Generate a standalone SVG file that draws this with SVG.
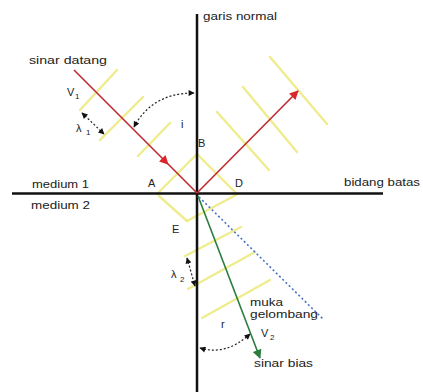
<svg xmlns="http://www.w3.org/2000/svg" width="423" height="392" viewBox="0 0 423 392">
<style>
text{font-family:"Liberation Sans",Arial,sans-serif;font-size:11px;fill:#222}
.sub{font-size:8px}
.axis{stroke:#111;stroke-width:2.5;fill:none}
.wf{stroke:#ebe772;stroke-width:2.4;fill:none;stroke-linecap:round;opacity:0.8}
.dot{stroke:#222;stroke-width:1.2;fill:none;stroke-dasharray:2 2}
</style>
<defs>
<marker id="ar" viewBox="0 0 10 10" refX="9" refY="5" markerWidth="11" markerHeight="9" markerUnits="userSpaceOnUse" orient="auto"><path d="M0,0 L10,5 L0,10 z" fill="#d8262c"/></marker>
<marker id="ag" viewBox="0 0 10 10" refX="9" refY="5" markerWidth="11" markerHeight="9" markerUnits="userSpaceOnUse" orient="auto"><path d="M0,0 L10,5 L0,10 z" fill="#2a7d3c"/></marker>
<marker id="ak" viewBox="0 0 10 10" refX="9" refY="5" markerWidth="7" markerHeight="6" markerUnits="userSpaceOnUse" orient="auto-start-reverse"><path d="M0,0 L10,5 L0,10 z" fill="#111"/></marker>
</defs>
<rect width="423" height="392" fill="#fff"/>

<g id="wavefronts">
<line class="wf" x1="80" y1="110" x2="117" y2="70"/>
<line class="wf" x1="100" y1="140" x2="143" y2="97"/>
<line class="wf" x1="138" y1="156" x2="170" y2="123"/>
<line class="wf" x1="157" y1="194" x2="197" y2="154"/>
<line class="wf" x1="197" y1="154" x2="237" y2="194"/>
<line class="wf" x1="217" y1="112" x2="269" y2="170"/>
<line class="wf" x1="243" y1="87" x2="297" y2="152"/>
<line class="wf" x1="270" y1="57" x2="327" y2="124"/>
<line class="wf" x1="159" y1="196" x2="187" y2="221"/>
<line class="wf" x1="187" y1="221" x2="236" y2="195"/>
<line class="wf" x1="185" y1="256" x2="241" y2="227"/>
<line class="wf" x1="188" y1="289" x2="255" y2="252"/>
<line class="wf" x1="202" y1="318" x2="270" y2="280"/>
</g>

<g id="axes">
<line class="axis" x1="197" y1="14" x2="197" y2="392"/>
<line class="axis" x1="12" y1="193.5" x2="383" y2="193.5"/>
</g>

<g id="connectors">
<path d="M74,70 L168,164 L197,193" stroke="#c02a30" stroke-width="1.6" fill="none" marker-mid="url(#ar)"/>
<line x1="197" y1="193" x2="298" y2="91" stroke="#c02a30" stroke-width="1.6" marker-end="url(#ar)"/>
<line x1="198" y1="196" x2="260" y2="358" stroke="#2a7d3c" stroke-width="1.6" marker-end="url(#ag)"/>
<line x1="199" y1="197" x2="324" y2="320" stroke="#4a72c8" stroke-width="1.6" stroke-dasharray="2 2.5"/>
<path class="dot" d="M134,127 Q152,93 194,93" marker-start="url(#ak)" marker-end="url(#ak)"/>
<line class="dot" x1="82" y1="113" x2="104" y2="134" marker-start="url(#ak)" marker-end="url(#ak)"/>
<line class="dot" x1="187" y1="258" x2="195" y2="286" marker-start="url(#ak)" marker-end="url(#ak)"/>
<path class="dot" d="M200,348 Q226,356 250,334" marker-start="url(#ak)" marker-end="url(#ak)"/>
</g>

<g id="labels">
<text x="203" y="20" textLength="74" lengthAdjust="spacingAndGlyphs">garis normal</text>
<text x="29" y="64" textLength="78" lengthAdjust="spacingAndGlyphs">sinar datang</text>
<text x="344" y="186" textLength="76" lengthAdjust="spacingAndGlyphs">bidang batas</text>
<text x="32" y="188" textLength="57" lengthAdjust="spacingAndGlyphs">medium 1</text>
<text x="31" y="209" textLength="59" lengthAdjust="spacingAndGlyphs">medium 2</text>
<text x="250" y="306" textLength="33" lengthAdjust="spacingAndGlyphs">muka</text>
<text x="250" y="318" textLength="68" lengthAdjust="spacingAndGlyphs">gelombang</text>
<text x="254" y="367" textLength="59" lengthAdjust="spacingAndGlyphs">sinar bias</text>
<text x="67" y="96">V</text><text class="sub" x="75" y="99">1</text>
<text x="76" y="132">λ</text><text class="sub" x="86" y="135">1</text>
<text x="171" y="278">λ</text><text class="sub" x="180" y="282">2</text>
<text x="261" y="337">V</text><text class="sub" x="270" y="340">2</text>
<text x="181" y="128">i</text>
<text x="221" y="328">r</text>
<text x="148" y="187">A</text>
<text x="198" y="147">B</text>
<text x="235" y="187">D</text>
<text x="172" y="233">E</text>
</g>
</svg>
